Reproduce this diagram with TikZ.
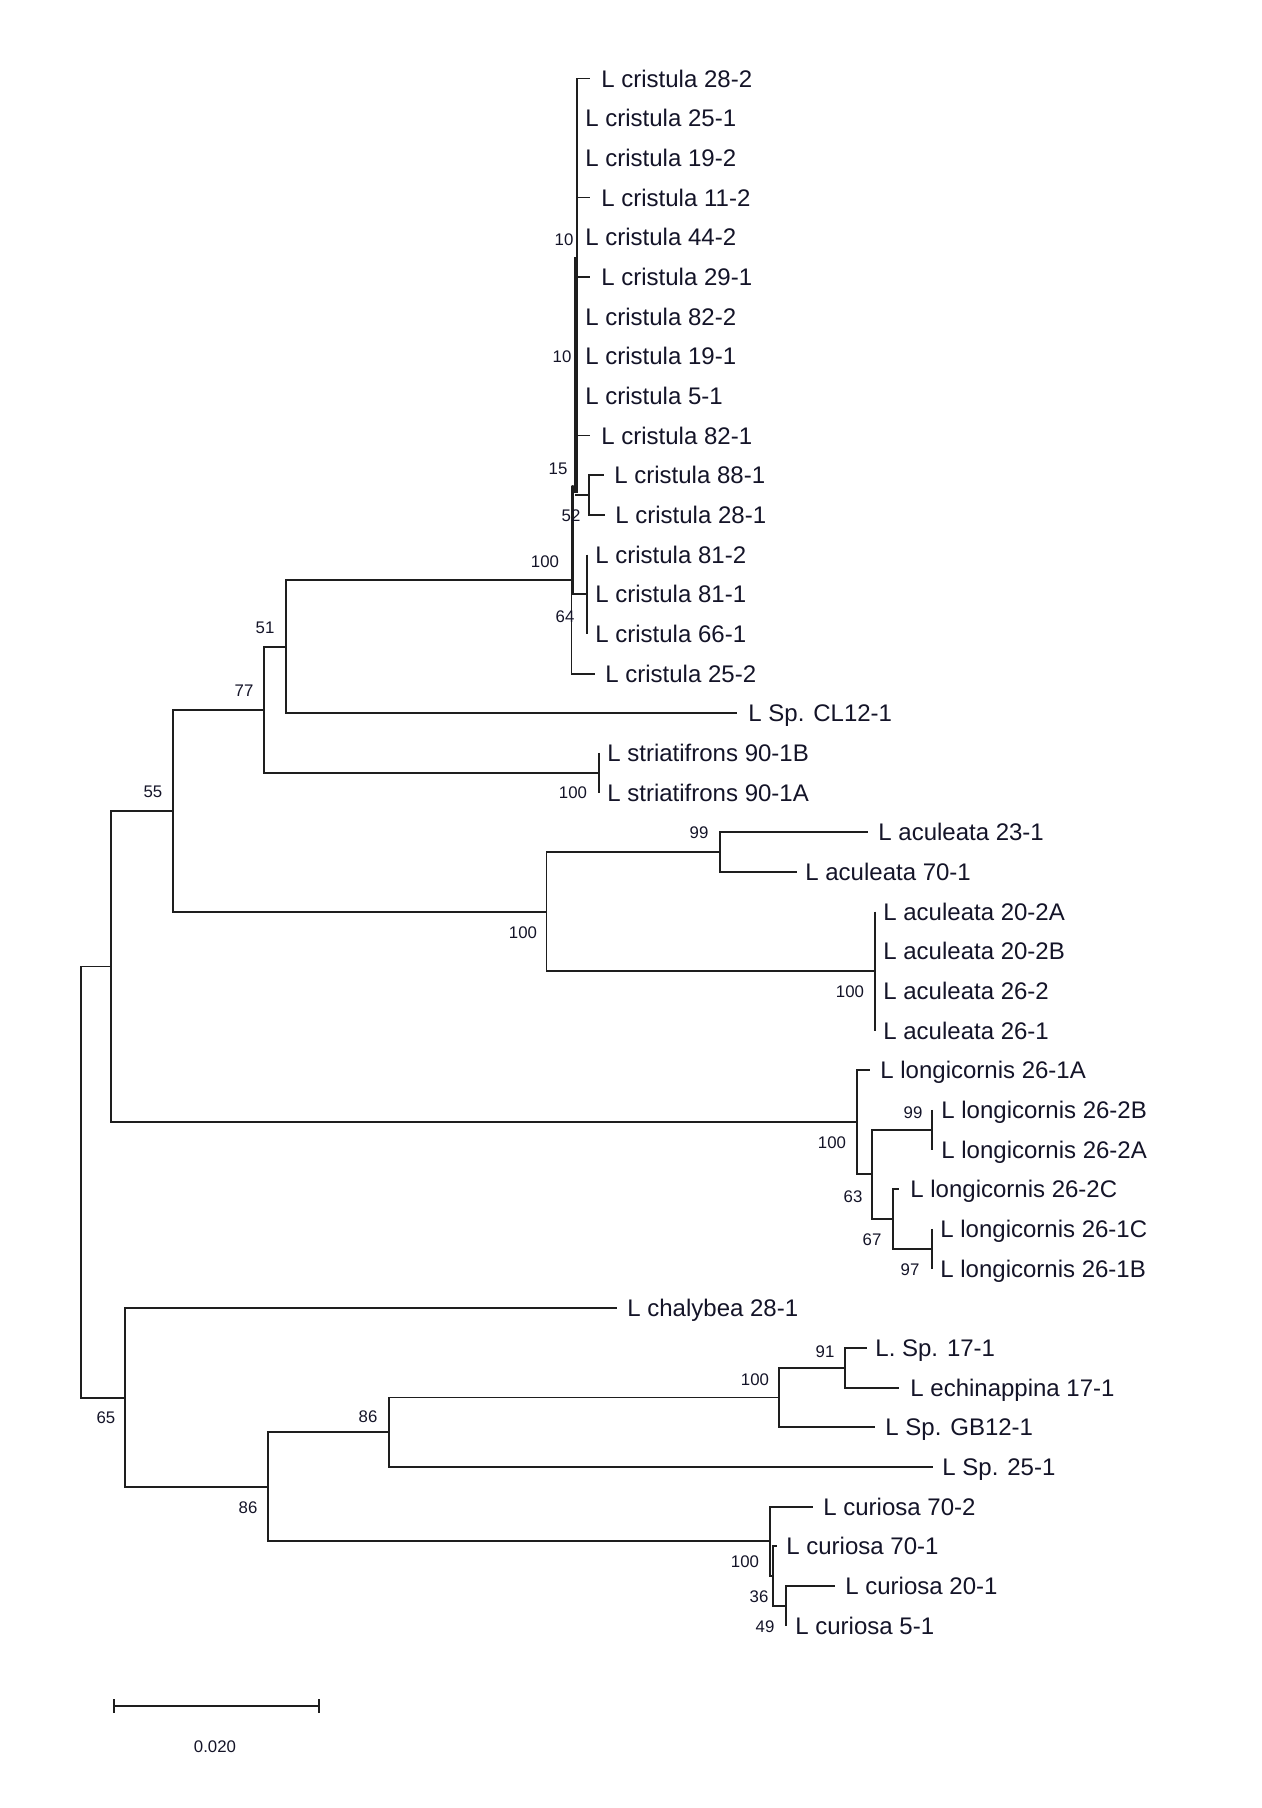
\documentclass[tikz,border=0pt]{standalone}
\usepackage{fontspec}
\setmainfont{Liberation Sans}
\definecolor{linec}{RGB}{30,30,30}
\definecolor{txtc}{RGB}{20,20,40}
\begin{document}
\begin{tikzpicture}[x=0.5pt,y=-0.5pt,
  br/.style={draw=linec, line width=0.95pt},
  thick stem/.style={draw=linec, line width=1.7pt},
  taxon/.style={anchor=west, inner sep=0pt, text height=8.6pt, text depth=0pt, font=\fontsize{12}{14}\selectfont, text=txtc},
  boot/.style={inner sep=0pt, font=\fontsize{8.4}{10}\selectfont, text=txtc}]
\useasboundingbox (0,0) rectangle (1262,1808);
\fill[white] (0,0) rectangle (1262,1808);

% ---------- taxon labels ----------
\node[taxon] (t1)  at (601,78.5)   {L cristula 28-2};
\node[taxon] (t2)  at (585,118.2)  {L cristula 25-1};
\node[taxon] (t3)  at (585,157.8)  {L cristula 19-2};
\node[taxon] (t4)  at (601,197.5)  {L cristula 11-2};
\node[taxon] (t5)  at (585,237.2)  {L cristula 44-2};
\node[taxon] (t6)  at (601,276.9)  {L cristula 29-1};
\node[taxon] (t7)  at (585,316.5)  {L cristula 82-2};
\node[taxon] (t8)  at (585,356.2)  {L cristula 19-1};
\node[taxon] (t9)  at (585,395.9)  {L cristula 5-1};
\node[taxon] (t10) at (601,435.5)  {L cristula 82-1};
\node[taxon] (t11) at (614,475.2)  {L cristula 88-1};
\node[taxon] (t12) at (615,514.9)  {L cristula 28-1};
\node[taxon] (t13) at (595,554.5)  {L cristula 81-2};
\node[taxon] (t14) at (595,594.2)  {L cristula 81-1};
\node[taxon] (t15) at (595,633.9)  {L cristula 66-1};
\node[taxon] (t16) at (605,673.6)  {L cristula 25-2};
\node[taxon] (t17) at (748,713.2)  {L Sp. CL12-1};
\node[taxon] (t18) at (607,752.9)  {L striatifrons 90-1B};
\node[taxon] (t19) at (607,792.6)  {L striatifrons 90-1A};
\node[taxon] (t20) at (878,832.2)  {L aculeata 23-1};
\node[taxon] (t21) at (805,871.9)  {L aculeata 70-1};
\node[taxon] (t22) at (883,911.6)  {L aculeata 20-2A};
\node[taxon] (t23) at (883,951.2)  {L aculeata 20-2B};
\node[taxon] (t24) at (883,990.9)  {L aculeata 26-2};
\node[taxon] (t25) at (883,1030.6) {L aculeata 26-1};
\node[taxon] (t26) at (880,1070.3) {L longicornis 26-1A};
\node[taxon] (t27) at (941,1109.9) {L longicornis 26-2B};
\node[taxon] (t28) at (941,1149.6) {L longicornis 26-2A};
\node[taxon] (t29) at (910,1189.3) {L longicornis 26-2C};
\node[taxon] (t30) at (940,1228.9) {L longicornis 26-1C};
\node[taxon] (t31) at (940,1268.6) {L longicornis 26-1B};
\node[taxon] (t32) at (627,1308.3) {L chalybea 28-1};
\node[taxon] (t33) at (875,1347.9) {L. Sp. 17-1};
\node[taxon] (t34) at (910,1387.6) {L echinappina 17-1};
\node[taxon] (t35) at (885,1427.3) {L Sp. GB12-1};
\node[taxon] (t36) at (942,1467.0) {L Sp. 25-1};
\node[taxon] (t37) at (823,1506.6) {L curiosa 70-2};
\node[taxon] (t38) at (786,1546.3) {L curiosa 70-1};
\node[taxon] (t39) at (845,1586.0) {L curiosa 20-1};
\node[taxon] (t40) at (795,1625.6) {L curiosa 5-1};

% ---------- leaf tips ----------
\coordinate (e1)  at (590,78.5);
\coordinate (e4)  at (590,197.5);
\coordinate (e6)  at (590,276.9);
\coordinate (e10) at (590,435.5);
\coordinate (e11) at (604,475.2);
\coordinate (e12) at (605,514.9);
\coordinate (e16) at (595,673.6);
\coordinate (e17) at (737,713.2);
\coordinate (e20) at (868,832.2);
\coordinate (e21) at (797,871.9);
\coordinate (e26) at (870,1070.3);
\coordinate (e29) at (899,1189.3);
\coordinate (e32) at (617,1308.3);
\coordinate (e33) at (867,1347.9);
\coordinate (e34) at (899,1387.6);
\coordinate (e35) at (875,1427.3);
\coordinate (e36) at (933,1467.0);
\coordinate (e37) at (813,1506.6);
\coordinate (e38) at (777,1546.3);
\coordinate (e39) at (835,1586.0);

% ---------- cristula cluster ----------
\coordinate (s0)  at (577,78.5);
\coordinate (s4)  at (577,197.5);
\coordinate (s6)  at (577,276.9);
\coordinate (s10) at (577,435.5);
\coordinate (s1)  at (577,487);
\coordinate (k0)  at (576,257);
\coordinate (k1)  at (576,493);
\draw[br] (s0) -- (s1);
\draw[thick stem] (k0) -- (k1);
\draw[br] (s0) -- (e1);
\draw[br] (s4) -- (e4);
\draw[br] (s6) -- (e6);
\draw[br] (s10) -- (e10);

\coordinate (c100)  at (571.5,580);
\coordinate (c100t) at (571.5,486);
\coordinate (c64t)  at (573,487);
\coordinate (c81)   at (587,594.2);
\coordinate (c81t)  at (587,554.5);
\coordinate (c81b)  at (587,633.9);
\coordinate (c52)   at (575,495);
\coordinate (c88)   at (589,495);
\draw[br] (c100t) -- (c100) |- (e16);
\draw[br] (c100t) -- (s1);
\draw[br] (c64t) |- (c81);
\draw[br] (c81t) -- (c81b);
\draw[br] (c52) -- (c88);
\draw[br] (c88) |- (e11);
\draw[br] (c88) |- (e12);

% ---------- upper clades ----------
\coordinate (n51) at (286,646.6);
\coordinate (n77) at (264,709.7);
\coordinate (st)  at (599,772.7);
\coordinate (st1) at (599,752.9);
\coordinate (st2) at (599,792.6);
\draw[br] (n51) |- (c100);
\draw[br] (n51) |- (e17);
\draw[br] (n77) |- (n51);
\draw[br] (n77) |- (st);
\draw[br] (st1) -- (st2);

\coordinate (a100) at (546.5,911.6);
\coordinate (a99)  at (720,852.1);
\coordinate (a4)   at (875,971.1);
\coordinate (a4t)  at (875,911.6);
\coordinate (a4b)  at (875,1030.6);
\draw[br] (a100) |- (a99);
\draw[br] (a100) |- (a4);
\draw[br] (a4t) -- (a4b);
\draw[br] (a99) |- (e20);
\draw[br] (a99) |- (e21);

\coordinate (n55) at (173,810.7);
\draw[br] (n55) |- (n77);
\draw[br] (n55) |- (a100);

\coordinate (l100) at (857,1122.4);
\coordinate (l63)  at (872,1174.4);
\coordinate (l99)  at (932,1129.8);
\coordinate (l99t) at (932,1109.9);
\coordinate (l99b) at (932,1149.6);
\coordinate (l67)  at (893,1219.0);
\coordinate (l97)  at (932,1248.8);
\coordinate (l97t) at (932,1228.9);
\coordinate (l97b) at (932,1268.6);
\draw[br] (l100) |- (e26);
\draw[br] (l100) |- (l63);
\draw[br] (l63) |- (l99);
\draw[br] (l63) |- (l67);
\draw[br] (l99t) -- (l99b);
\draw[br] (l67) |- (e29);
\draw[br] (l67) |- (l97);
\draw[br] (l97t) -- (l97b);

\coordinate (n1) at (110.7,966.5);
\draw[br] (n1) |- (n55);
\draw[br] (n1) |- (l100);

% ---------- lower clades ----------
\coordinate (b65)  at (125,1397.6);
\coordinate (b86b) at (267.7,1486.8);
\coordinate (b86a) at (389,1432.3);
\coordinate (b100) at (779,1397.5);
\coordinate (b91)  at (845,1367.8);
\coordinate (c100b) at (770,1541.3);
\coordinate (c36)  at (773,1576.0);
\coordinate (c49)  at (786,1605.8);
\coordinate (c49b) at (786,1625.6);
\draw[br] (b65) |- (e32);
\draw[br] (b65) |- (b86b);
\draw[br] (b86b) |- (b86a);
\draw[br] (b86b) |- (c100b);
\draw[br] (b86a) |- (b100);
\draw[br] (b86a) |- (e36);
\draw[br] (b100) |- (b91);
\draw[br] (b100) |- (e35);
\draw[br] (b91) |- (e33);
\draw[br] (b91) |- (e34);
\draw[br] (c100b) |- (e37);
\draw[br] (c100b) |- (c36);
\draw[br] (c36) |- (e38);
\draw[br] (c36) |- (c49);
\draw[br] (c49) |- (e39);
\draw[br] (c49) -- (c49b);

\coordinate (root) at (80.7,1182);
\draw[br] (root) |- (n1);
\draw[br] (root) |- (b65);

% ---------- bootstrap values ----------
\node[boot] (bs1)  at (564,240)  {10};
\node[boot] (bs2)  at (562,357)  {10};
\node[boot] (bs3)  at (558,469)  {15};
\node[boot] (bs4)  at (571,516)  {52};
\node[boot] (bs5)  at (545,562)  {100};
\node[boot] (bs6)  at (565,617)  {64};
\node[boot] (bs7)  at (265,628)  {51};
\node[boot] (bs8)  at (244,691)  {77};
\node[boot] (bs9)  at (153,792)  {55};
\node[boot] (bs10) at (573,793)  {100};
\node[boot] (bs11) at (699,833)  {99};
\node[boot] (bs12) at (523,933)  {100};
\node[boot] (bs13) at (850,992)  {100};
\node[boot] (bs14) at (913,1113) {99};
\node[boot] (bs15) at (832,1143) {100};
\node[boot] (bs16) at (853,1197) {63};
\node[boot] (bs17) at (872,1240) {67};
\node[boot] (bs18) at (910,1270) {97};
\node[boot] (bs19) at (825,1352) {91};
\node[boot] (bs20) at (755,1380) {100};
\node[boot] (bs21) at (368,1417) {86};
\node[boot] (bs22) at (106,1418) {65};
\node[boot] (bs23) at (248,1508) {86};
\node[boot] (bs24) at (745,1562) {100};
\node[boot] (bs25) at (759,1597) {36};
\node[boot] (bs26) at (765,1627) {49};

% ---------- scale bar ----------
\coordinate (sb1) at (114,1706);
\coordinate (sb2) at (319,1706);
\draw[br] (sb1) -- (sb2);
\draw[br] (sb1) ++(0,-7) -- ++(0,14);
\draw[br] (sb2) ++(0,-7) -- ++(0,14);
\node[boot] (sbl) at (215,1747) {0.020};
\end{tikzpicture}
\end{document}
